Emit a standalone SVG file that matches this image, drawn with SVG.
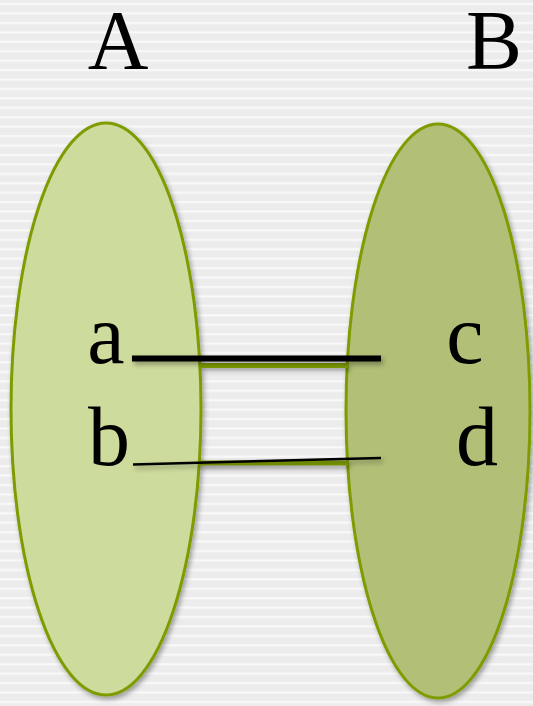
<svg xmlns="http://www.w3.org/2000/svg" width="533" height="706" viewBox="0 0 533 706">
<defs>
<pattern id="stripes" width="533" height="9.43" patternUnits="userSpaceOnUse">
<rect width="533" height="9.43" fill="#ececec"/>
<rect y="3" width="533" height="2.2" fill="#f9f9f9"/>
</pattern>
<filter id="sh" x="-20%" y="-20%" width="140%" height="140%">
<feDropShadow dx="2" dy="3" stdDeviation="2.5" flood-color="#000" flood-opacity="0.35"/>
</filter>
<filter id="lsh" filterUnits="userSpaceOnUse" x="0" y="0" width="533" height="706">
<feDropShadow dx="2" dy="3" stdDeviation="2.5" flood-color="#000" flood-opacity="0.35"/>
</filter>
<style>
.ell{stroke:#7e9c06;stroke-width:3;}
.lbl{font-family:"Liberation Serif","DejaVu Serif",serif;fill:#000;}
.big{font-size:84px;}
.sm{font-size:84px;}
.band{stroke:#7e9c06;stroke-width:5;}
</style>
</defs>
<rect width="533" height="706" fill="url(#stripes)"/>
<g id="A">
<ellipse class="ell" cx="106" cy="409" rx="95" ry="286" fill="#cddb9c" filter="url(#sh)"/>
<text class="lbl big" x="118" y="69" text-anchor="middle">A</text>
<text class="lbl sm" x="106" y="363" text-anchor="middle">a</text>
<text class="lbl sm" x="109" y="465" text-anchor="middle">b</text>
</g>
<g id="B">
<ellipse class="ell" cx="438" cy="411" rx="92" ry="287" fill="#b1bf77" filter="url(#sh)"/>
<text class="lbl big" x="494" y="69" text-anchor="middle">B</text>
<text class="lbl sm" x="465" y="363" text-anchor="middle">c</text>
<text class="lbl sm" x="477" y="465" text-anchor="middle">d</text>
</g>
<g id="connectors">
<line class="band" x1="200" y1="365.5" x2="348" y2="365.5" filter="url(#lsh)"/>
<line class="band" x1="200" y1="463" x2="348" y2="463" filter="url(#lsh)"/>
<line x1="132" y1="358.5" x2="381" y2="358.5" stroke="#000" stroke-width="6" filter="url(#lsh)"/>
<line x1="133" y1="464.5" x2="381" y2="458" stroke="#000" stroke-width="2.5" filter="url(#lsh)"/>
</g>
</svg>
